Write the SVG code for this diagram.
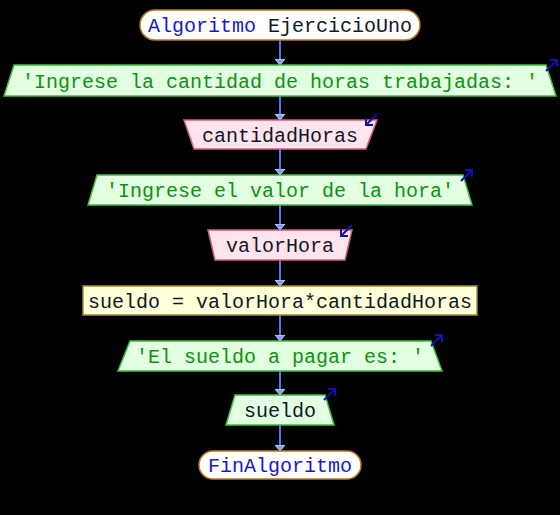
<svg xmlns="http://www.w3.org/2000/svg" width="560" height="515" viewBox="0 0 560 515">
<style>
.t{font-family:"Liberation Mono","DejaVu Sans Mono",monospace;font-size:20px;text-anchor:middle}
.term{fill:#ffffff;stroke:#c07820;stroke-width:1.5}
.out{fill:#e2ffe2;stroke:#40c040;stroke-width:1.5}
.in{fill:#ffe4ee;stroke:#d06080;stroke-width:1.5}
.proc{fill:#ffffd8;stroke:#a09030;stroke-width:1.5}
.tout{fill:#109010}
.tvar{fill:#101828}
.tkw{fill:#1818d0}
.conn{stroke:#5577ee;stroke-width:2;fill:none}
.ico{stroke:#1010b0;stroke-width:2;fill:none}
</style>
<defs>
<marker id="ah" viewBox="0 0 6 10" refX="6" refY="5" markerWidth="6" markerHeight="10" markerUnits="userSpaceOnUse" orient="auto">
<path d="M0,0 L6,5 L0,10 z" fill="#7f9cff" stroke="#e8eeff" stroke-width="0.8"/>
</marker>
<g id="icoOut"><path class="ico" d="M1,12 L12,1 M5,1 L12,1 L12,8"/></g>
<g id="icoIn"><path class="ico" d="M12,1 L1,12 M1,5 L1,12 L8,12"/></g>
</defs>
<rect width="560" height="515" fill="#000000"/>
<g id="connectors">
<line class="conn" x1="280" y1="40" x2="280" y2="65" marker-end="url(#ah)"/>
<line class="conn" x1="280" y1="96" x2="280" y2="120" marker-end="url(#ah)"/>
<line class="conn" x1="280" y1="149" x2="280" y2="175" marker-end="url(#ah)"/>
<line class="conn" x1="280" y1="205" x2="280" y2="230" marker-end="url(#ah)"/>
<line class="conn" x1="280" y1="260" x2="280" y2="286" marker-end="url(#ah)"/>
<line class="conn" x1="280" y1="315" x2="280" y2="341" marker-end="url(#ah)"/>
<line class="conn" x1="280" y1="371" x2="280" y2="395" marker-end="url(#ah)"/>
<line class="conn" x1="280" y1="425" x2="280" y2="451" marker-end="url(#ah)"/>
</g>
<g id="start">
<rect class="term" x="140" y="10" width="280" height="30" rx="15"/>
<text class="t" x="280" y="32"><tspan class="tkw">Algoritmo</tspan><tspan class="tvar"> EjercicioUno</tspan></text>
</g>
<g id="out1">
<polygon class="out" points="14,65 546,65 556,96 4,96"/>
<text class="t tout" x="280" y="87.5">'Ingrese la cantidad de horas trabajadas: '</text>
<use href="#icoOut" x="545" y="59"/>
</g>
<g id="in1">
<polygon class="in" points="184,120 377,120 366,149 194,149"/>
<text class="t tvar" x="280" y="141.5">cantidadHoras</text>
<use href="#icoIn" x="365" y="113"/>
</g>
<g id="out2">
<polygon class="out" points="97,175 463,175 472,205 88,205"/>
<text class="t tout" x="280" y="197">'Ingrese el valor de la hora'</text>
<use href="#icoOut" x="460" y="169"/>
</g>
<g id="in2">
<polygon class="in" points="208,230 352,230 345,260 215,260"/>
<text class="t tvar" x="280" y="252">valorHora</text>
<use href="#icoIn" x="340" y="224"/>
</g>
<g id="proc">
<rect class="proc" x="83" y="286" width="394" height="29"/>
<text class="t tvar" x="280" y="307.5">sueldo = valorHora*cantidadHoras</text>
</g>
<g id="out3">
<polygon class="out" points="130,341 431,341 442,371 118,371"/>
<text class="t tout" x="280" y="363">'El sueldo a pagar es: '</text>
<use href="#icoOut" x="430" y="334"/>
</g>
<g id="out4">
<polygon class="out" points="235,395 325,395 334,425 226,425"/>
<text class="t tvar" x="280" y="417">sueldo</text>
<use href="#icoOut" x="323" y="388"/>
</g>
<g id="end">
<rect class="term" x="199" y="451" width="162" height="28" rx="14"/>
<text class="t tkw" x="280" y="472">FinAlgoritmo</text>
</g>
</svg>
